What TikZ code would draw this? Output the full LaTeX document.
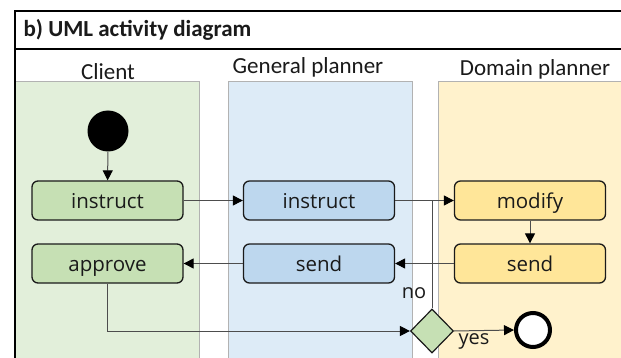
\documentclass[tikz,border=0pt]{standalone}
\usepackage{fontspec}
\setmainfont{Carlito}
\newfontfamily\boxfont{Open Sans}
\usetikzlibrary{arrows.meta,shapes.geometric}
\definecolor{laneG}{HTML}{E2EFDA}
\definecolor{laneB}{HTML}{DDEBF7}
\definecolor{laneY}{HTML}{FFF2CC}
\definecolor{boxG}{HTML}{C6E0B4}
\definecolor{boxB}{HTML}{BDD7EE}
\definecolor{boxY}{HTML}{FFE699}
\definecolor{ink}{HTML}{1A1A1A}
\definecolor{wire}{HTML}{4D4D4D}
\begin{document}
\begin{tikzpicture}[x=1pt,y=-1pt,
  lane/.style={draw=black!30,line width=0.8pt},
  activity/.style={draw=ink,line width=1.3pt,rounded corners=6pt,
    minimum width=151pt,minimum height=39pt,inner sep=0pt,text=ink,
    text height=19.5pt,text depth=4pt,
    font=\boxfont\fontsize{20.5}{22}\selectfont},
  lanelabel/.style={text=ink,font=\fontsize{23}{25}\selectfont},
  flow/.style={draw=wire,line width=1pt,-{Triangle[length=10pt,width=10pt,color=black]}},
  plain/.style={draw=wire,line width=1pt},
  guard/.style={text=ink,font=\boxfont\fontsize{20}{22}\selectfont}]
\useasboundingbox (0,0) rectangle (621,358);
\clip (0,0) rectangle (621,358);
% swimlanes
\fill[white] (0,0) rectangle (621,358);
\draw[lane,fill=laneG] (15,81) rectangle (199,380);
\draw[lane,fill=laneB] (228,81) rectangle (412,380);
\draw[lane,fill=laneY] (438,81) rectangle (640,380);
% outer frame and title bar
\draw[line width=1.3pt] (15,400) -- (15,11) -- (640,11);
\draw[line width=1.3pt] (15,49) -- (640,49);
\node[anchor=west,text=ink,font=\bfseries\fontsize{23}{25}\selectfont] (title) at (20,30) {b) UML activity diagram};
% lane headings
\node[lanelabel] (lclient) at (108,72) {Client};
\node[lanelabel] (lgeneral) at (308,67) {General planner};
\node[lanelabel] (ldomain) at (535,69) {Domain planner};
% activities
\node[activity,fill=boxG] (cinstr) at (107.5,200.5) {instruct};
\node[activity,fill=boxG] (capprove) at (107.5,263.5) {approve};
\node[activity,fill=boxB] (ginstr) at (319,200.5) {instruct};
\node[activity,fill=boxB] (gsend) at (319,263.5) {send};
\node[activity,fill=boxY] (dmodify) at (530,200.5) {modify};
\node[activity,fill=boxY] (dsend) at (530,263.5) {send};
% start, decision and end
\node[circle,fill=black,minimum size=41pt,inner sep=0pt] (start) at (108,131) {};
\node[diamond,draw=ink,line width=1.2pt,fill=boxG,minimum width=43pt,minimum height=44pt,inner sep=0pt] (decide) at (432,331) {};
\node[circle,draw=black,line width=4pt,fill=white,minimum size=34pt,inner sep=0pt] (stop) at (533,330) {};
% flows
\draw[flow] (start) -- (cinstr);
\draw[flow] (cinstr) -- (ginstr);
\draw[flow] (ginstr) -- (dmodify);
\draw[flow] (dmodify) -- (dsend);
\draw[flow] (dsend) -- (gsend);
\draw[flow] (gsend) -- (capprove);
\draw[flow] (capprove.south) |- (decide.west);
\coordinate (rejoin) at (decide.north |- ginstr.east);
\draw[plain] (decide.north) -- (rejoin);
\draw[flow] (decide.east) -- (stop.west);
\node[guard] (gno) at (414,293) {no};
\node[guard] (gyes) at (474,341) {yes};
\end{tikzpicture}
\end{document}
